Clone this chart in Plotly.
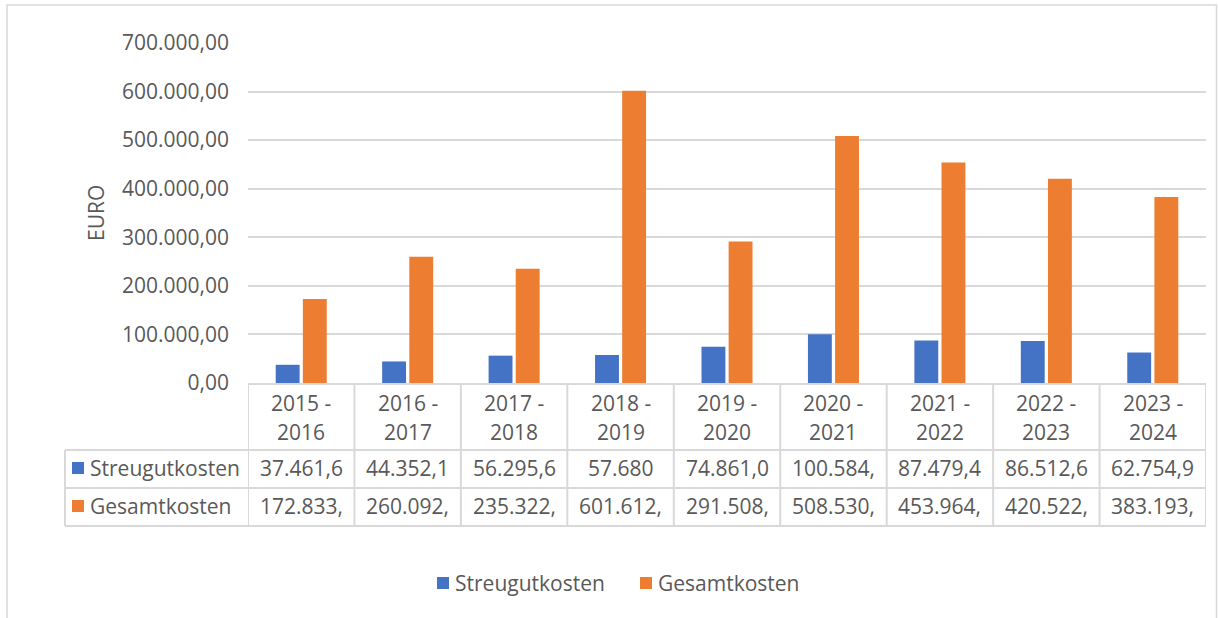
import plotly.graph_objects as go

# ---------------- data ----------------
categories = ["2015 - 2016", "2016 - 2017", "2017 - 2018", "2018 - 2019", "2019 - 2020",
              "2020 - 2021", "2021 - 2022", "2022 - 2023", "2023 - 2024"]
header_line1 = ["2015 -", "2016 -", "2017 -", "2018 -", "2019 -", "2020 -", "2021 -", "2022 -", "2023 -"]
header_line2 = ["2016", "2017", "2018", "2019", "2020", "2021", "2022", "2023", "2024"]

streugutkosten = [37461.6, 44352.1, 56295.6, 57680, 74861.0, 100584, 87479.4, 86512.6, 62754.9]
gesamtkosten = [172833, 260092, 235322, 601612, 291508, 508530, 453964, 420522, 383193]

# values as shown (clipped) in the chart's data table
streugut_table = ["37.461,6", "44.352,1", "56.295,6", "57.680", "74.861,0",
                  "100.584,", "87.479,4", "86.512,6", "62.754,9"]
gesamt_table = ["172.833,", "260.092,", "235.322,", "601.612,", "291.508,",
                "508.530,", "453.964,", "420.522,", "383.193,"]

series_names = ["Streugutkosten", "Gesamtkosten"]
series_colors = ["#4472C4", "#ED7D31"]

# ---------------- layout helpers ----------------
W, H = 1218, 618
FONT = "Open Sans"
FS = 21
TXT = "#595959"
GRID = "#D9D9D9"


def py(p):  # pixel y -> paper y
    return 1 - p / H


def px(p):  # pixel x -> paper x
    return p / W


fig = go.Figure()
for name, vals, col in zip(series_names, [streugutkosten, gesamtkosten], series_colors):
    fig.add_trace(go.Bar(x=categories, y=vals, name=name, marker_color=col,
                         marker_line_width=0, showlegend=False))

shapes = []
annotations = []
n = len(categories)

# outer chart border
shapes.append(dict(type="rect", xref="paper", yref="paper", x0=px(7), x1=px(1216.5),
                   y0=py(5), y1=py(640), line=dict(color=GRID, width=1.5), layer="below"))

# data table grid
row_y = [384, 450, 488, 526]
left_edge = px(65)
shapes.append(dict(type="line", xref="x", yref="paper", x0=-0.5, x1=n - 0.5,
                   y0=py(row_y[0]), y1=py(row_y[0]), line=dict(color=GRID, width=2)))
for yy in row_y[1:]:
    shapes.append(dict(type="line", xref="paper", yref="paper", x0=left_edge, x1=px(1206),
                       y0=py(yy), y1=py(yy), line=dict(color=GRID, width=2)))
for k in range(n + 1):
    shapes.append(dict(type="line", xref="x", yref="paper", x0=k - 0.5, x1=k - 0.5,
                       y0=py(row_y[0]), y1=py(row_y[3]), line=dict(color=GRID, width=2)))
shapes.append(dict(type="line", xref="paper", yref="paper", x0=left_edge, x1=left_edge,
                   y0=py(row_y[1]), y1=py(row_y[3]), line=dict(color=GRID, width=2)))

txtfont = dict(family=FONT, size=FS, color=TXT)

# header texts
for k in range(n):
    annotations.append(dict(x=k, y=py(403), xref="x", yref="paper", text=header_line1[k],
                            showarrow=False, font=txtfont, xanchor="center", yanchor="middle"))
    annotations.append(dict(x=k, y=py(432), xref="x", yref="paper", text=header_line2[k],
                            showarrow=False, font=txtfont, xanchor="center", yanchor="middle"))

# rows
row_centers = [468, 506]
for r, (name, col, labels) in enumerate(zip(series_names, series_colors,
                                            [streugut_table, gesamt_table])):
    yc = row_centers[r]
    shapes.append(dict(type="rect", xref="paper", yref="paper", x0=px(72), x1=px(84),
                       y0=py(yc - 6), y1=py(yc + 6), fillcolor=col, line=dict(width=0)))
    annotations.append(dict(x=px(88), y=py(yc), xref="paper", yref="paper", text=name,
                            showarrow=False, font=txtfont, xanchor="left", yanchor="middle"))
    for k in range(n):
        annotations.append(dict(x=k, y=py(yc), xref="x", yref="paper", text=labels[k],
                                showarrow=False, font=txtfont,
                                xanchor="center", yanchor="middle"))

# legend (Excel style: small square + label)
legend_pos = [(437, 453), (640, 656)]
for (sx, tx), name, col in zip(legend_pos, series_names, series_colors):
    shapes.append(dict(type="rect", xref="paper", yref="paper", x0=px(sx), x1=px(sx + 12),
                       y0=py(583 - 6), y1=py(583 + 6), fillcolor=col, line=dict(width=0)))
    annotations.append(dict(x=px(tx), y=py(583), xref="paper", yref="paper", text=name,
                            showarrow=False, font=txtfont, xanchor="left", yanchor="middle"))

# y axis title
annotations.append(dict(x=px(96), y=py(213), xref="paper", yref="paper", text="EURO",
                        textangle=-90, showarrow=False, font=txtfont,
                        xanchor="center", yanchor="middle"))

fig.update_layout(
    width=W, height=H,
    margin=dict(l=0, r=0, t=0, b=0),
    paper_bgcolor="white", plot_bgcolor="white",
    separators=",.",
    font=txtfont,
    barmode="group", bargap=0.49, bargroupgap=0.12,
    xaxis=dict(domain=[px(248), px(1206)], range=[-0.5, n - 0.5], showticklabels=False,
               showgrid=False, zeroline=False, showline=False, ticks=""),
    yaxis=dict(domain=[py(383), py(43)], range=[0, 700000], dtick=100000,
               tickformat=",.2f", showgrid=True, gridcolor=GRID, gridwidth=2,
               zeroline=False, showline=False, ticks="", ticklabelstandoff=18,
               automargin=False, tickfont=txtfont),
    showlegend=False,
    shapes=shapes, annotations=annotations,
)

fig.write_html(
    "out.html",
    config={"displayModeBar": False},
    post_script="document.body.style.margin='0';document.body.style.overflow='hidden';",
)
